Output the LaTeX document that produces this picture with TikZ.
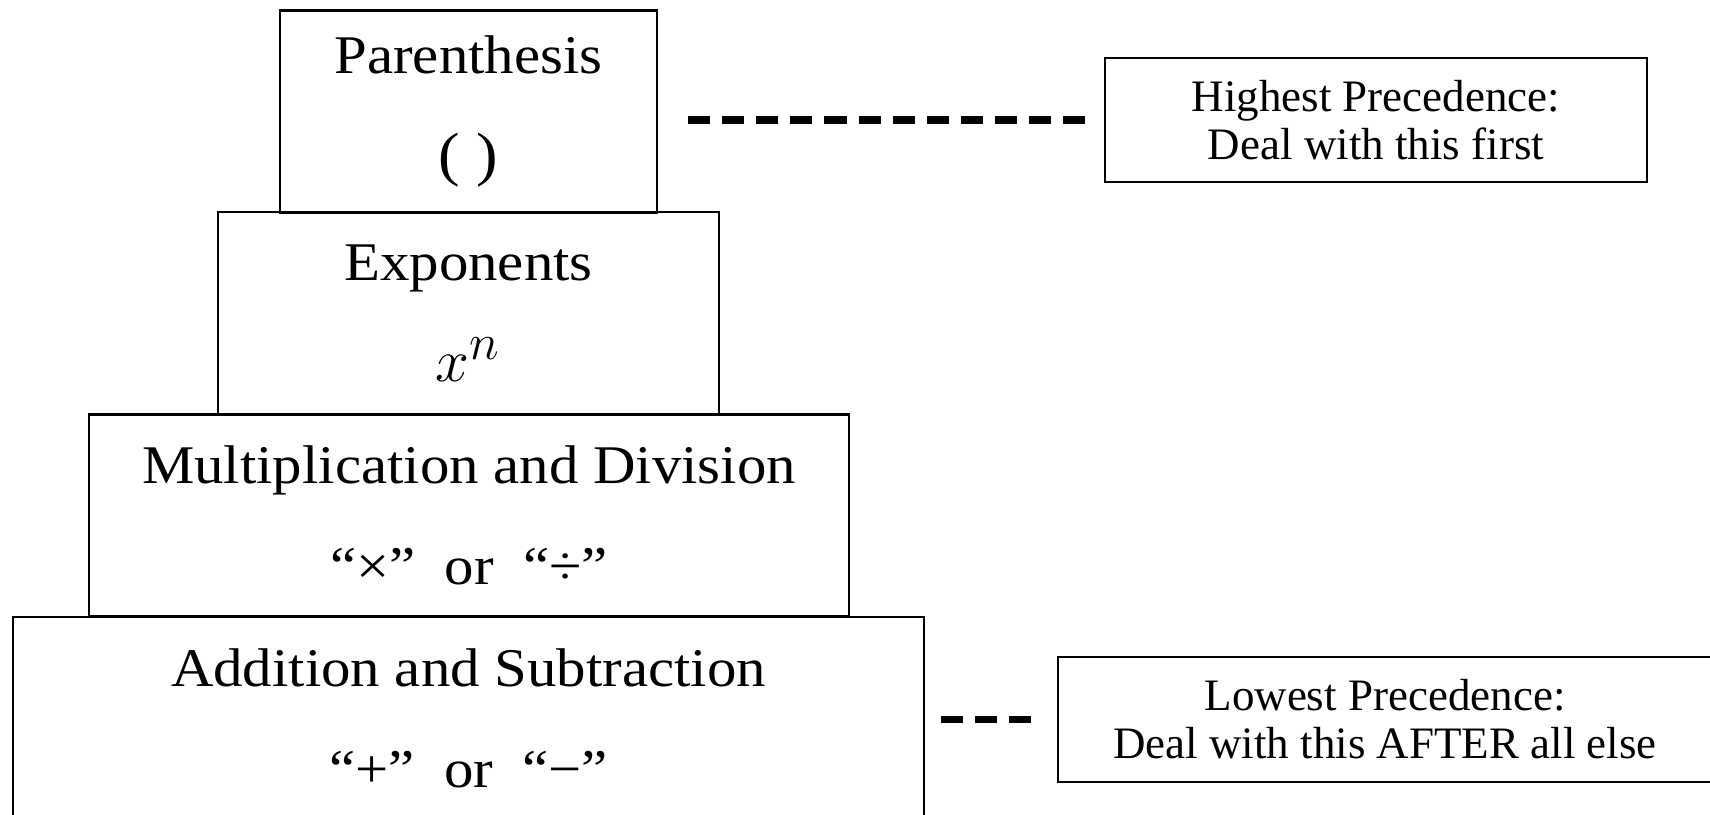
\documentclass[tikz,border=0pt]{standalone}
\usepackage{fontspec}
\setmainfont{Liberation Serif}
\newfontfamily\tierfont[FakeStretch=1.08]{Liberation Serif}
\usetikzlibrary{calc}

\begin{document}
\begin{tikzpicture}[
   tier/.style={draw, line width=0.6pt, align=center, inner sep=0pt,
     minimum height=2.02cm, font=\tierfont\fontsize{15.5}{28.7}\selectfont},
   note/.style={draw, line width=0.6pt, align=center, inner sep=0pt,
     minimum height=1.24cm, font=\fontsize{12.8}{13.7}\selectfont},
   leader/.style={line width=2pt, dash pattern=on 6.3pt off 3.4pt}]
  \useasboundingbox (0,0) rectangle (17.1,-8.15);
  % the pyramid, top to bottom
  \node[tier, minimum width=3.77cm] (paren) at (4.685,-1.115)
    {Parenthesis\\{\fontsize{17}{28.7}\selectfont( )}};
  \node[tier, minimum width=5.01cm] (expo) at (4.685,-3.13)
    {Exponents\\{\fontsize{19}{28.7}\selectfont$x^n$}};
  \node[tier, minimum width=7.60cm] (muldiv) at (4.69,-5.155)
    {Multiplication and Division\\“×”\ \ or\ \ “÷”};
  \node[tier, minimum width=9.11cm] (addsub) at (4.685,-7.18)
    {Addition and Subtraction\\“+”\ \ or\ \ “−”};
  % side notes
  \node[note, minimum width=5.42cm] (highnote) at (13.76,-1.2)
    {Highest Precedence:\\Deal with this first};
  \node[note, minimum width=6.54cm, minimum height=1.25cm] (lownote) at (13.85,-7.195)
    {Lowest Precedence:\\Deal with this AFTER all else};
  \draw[leader, shorten <=0.3cm, shorten >=0.15cm] (paren.east |- highnote.west) -- (highnote.west);
  \draw[leader, shorten <=0.16cm, shorten >=0.16cm] (addsub.east |- lownote.west) -- (lownote.west);
\end{tikzpicture}
\end{document}
